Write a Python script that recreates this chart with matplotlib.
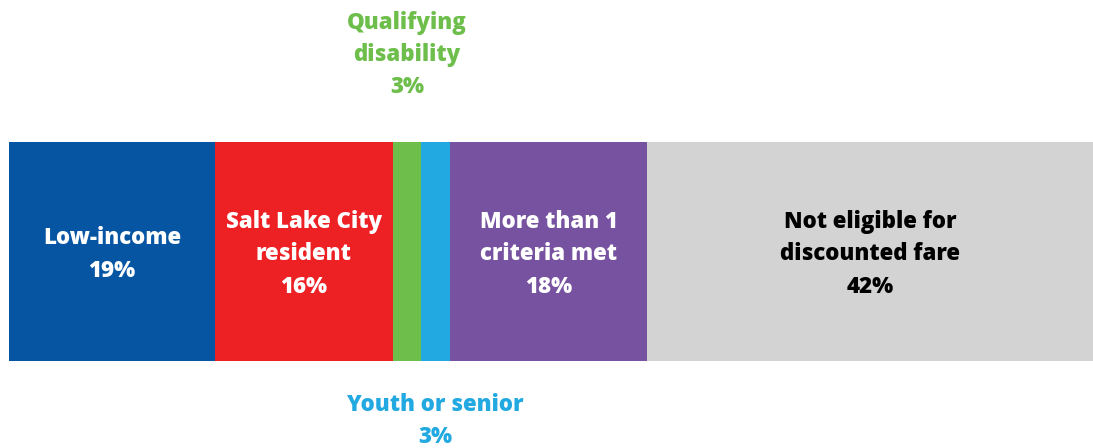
import matplotlib
matplotlib.use("Agg")
import matplotlib.pyplot as plt

categories = ["Low-income", "Salt Lake City\nresident", "Qualifying\ndisability",
              "Youth or senior", "More than 1\ncriteria met", "Not eligible for\ndiscounted fare"]
values = [19.0, 16.4, 2.6, 2.7, 18.2, 41.1]
pct_labels = ["19%", "16%", "3%", "3%", "18%", "42%"]
colors = ["#0555A3", "#ED2024", "#6DBE4B", "#22A9E1", "#7652A0", "#D3D3D3"]
text_colors = ["white", "white", "#6DBE4B", "#22A9E1", "white", "black"]

plt.rcParams['font.family'] = ['Open Sans', 'DejaVu Sans']

W, H = 1093, 448
fig = plt.figure(figsize=(W / 100, H / 100), dpi=100)
ax = fig.add_axes([9 / W, 0, 1084 / W, 1])
total = sum(values)
ax.set_xlim(0, total)
ax.set_ylim(H, 0)
ax.axis("off")

bar_y = 251.5
bar_h = 219
fs = 16
left = 0
for i, (cat, v, lab, c, tc) in enumerate(zip(categories, values, pct_labels, colors, text_colors)):
    ax.barh(bar_y, v, left=left, height=bar_h, color=c, edgecolor="none")
    cx = left + v / 2
    txt = f"{cat}\n{lab}"
    if i == 2:
        y = 55
    elif i == 3:
        y = 421
    else:
        y = bar_y + 3
    ax.text(cx, y, txt, ha="center", va="center", color=tc, fontsize=fs,
            fontweight=800, linespacing=1.47)
    left += v

fig.savefig("out.png", dpi=100)
